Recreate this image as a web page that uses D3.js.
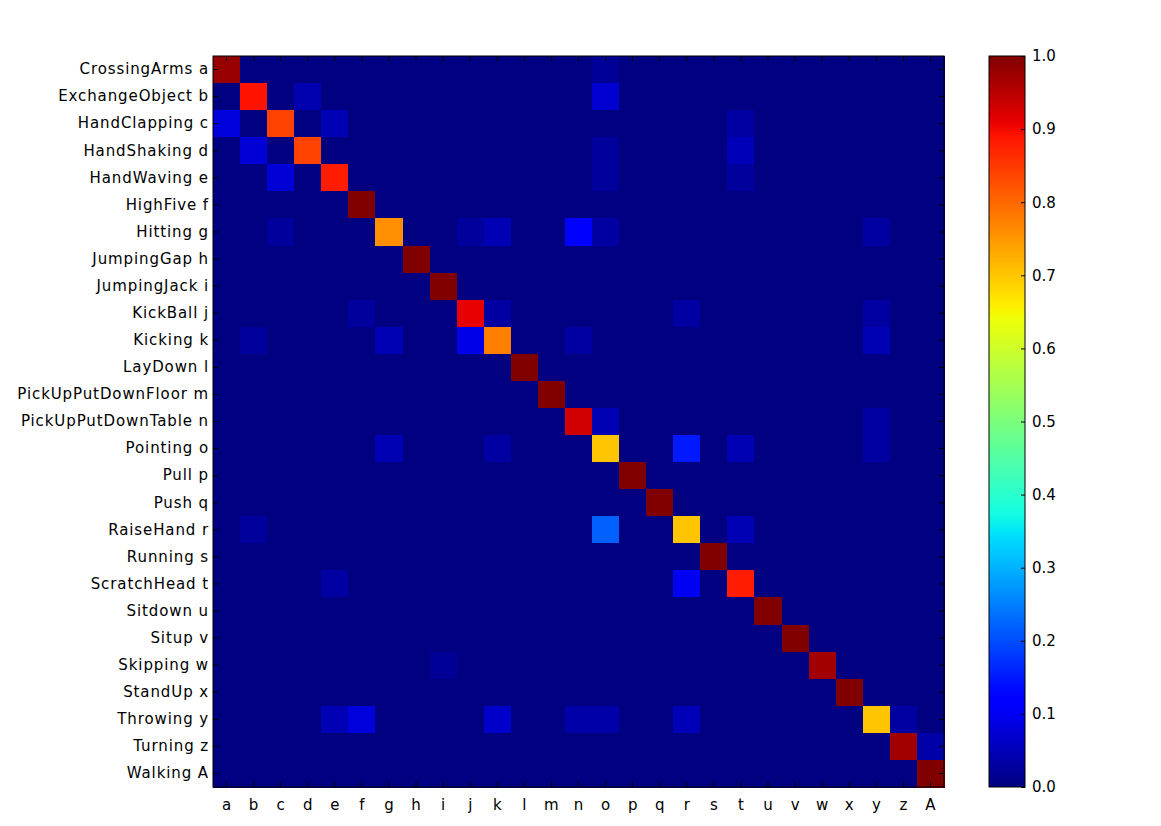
<!DOCTYPE html>
<html><head><meta charset="utf-8">
<script src="https://cdn.jsdelivr.net/npm/d3@7"></script>
<style>body{margin:0;background:#fff;} svg{display:block;} text{font-family:"DejaVu Sans",sans-serif;}</style>
</head><body><svg id="c" width="1161" height="826"></svg>
<script>
const rowLabels = ["CrossingArms a","ExchangeObject b","HandClapping c","HandShaking d","HandWaving e","HighFive f","Hitting g","JumpingGap h","JumpingJack i","KickBall j","Kicking k","LayDown l","PickUpPutDownFloor m","PickUpPutDownTable n","Pointing o","Pull p","Push q","RaiseHand r","Running s","ScratchHead t","Sitdown u","Situp v","Skipping w","StandUp x","Throwing y","Turning z","Walking A"];
const colLabels = ["a","b","c","d","e","f","g","h","i","j","k","l","m","n","o","p","q","r","s","t","u","v","w","x","y","z","A"];
const colorbarTicks = [0.0,0.1,0.2,0.3,0.4,0.5,0.6,0.7,0.8,0.9,1.0];
// non-zero cells: [row, column, value]
const cells = [
 ["a","a",0.98],["a","o",0.02],
 ["b","b",0.89],["b","d",0.04],["b","o",0.07],
 ["c","a",0.08],["c","c",0.84],["c","e",0.045],["c","t",0.03],
 ["d","b",0.075],["d","d",0.84],["d","o",0.025],["d","t",0.05],
 ["e","c",0.075],["e","e",0.88],["e","o",0.025],["e","t",0.025],
 ["f","f",1.0],
 ["g","c",0.025],["g","g",0.76],["g","j",0.025],["g","k",0.045],["g","n",0.115],["g","o",0.03],["g","y",0.03],
 ["h","h",1.0],
 ["i","i",1.0],
 ["j","f",0.025],["j","j",0.91],["j","k",0.03],["j","r",0.03],["j","y",0.03],
 ["k","b",0.025],["k","g",0.045],["k","j",0.09],["k","k",0.775],["k","n",0.03],["k","y",0.045],
 ["l","l",1.0],
 ["m","m",1.0],
 ["n","n",0.93],["n","o",0.045],["n","y",0.03],
 ["o","g",0.045],["o","k",0.03],["o","o",0.70],["o","r",0.15],["o","t",0.045],["o","y",0.03],
 ["p","p",1.0],
 ["q","q",1.0],
 ["r","b",0.025],["r","o",0.22],["r","r",0.70],["r","t",0.045],
 ["s","s",1.0],
 ["t","e",0.03],["t","r",0.10],["t","t",0.88],
 ["u","u",1.0],
 ["v","v",1.0],
 ["w","i",0.02],["w","w",0.97],
 ["x","x",1.0],
 ["y","e",0.045],["y","f",0.08],["y","k",0.065],["y","n",0.035],["y","o",0.035],["y","r",0.05],["y","y",0.70],["y","z",0.03],
 ["z","z",0.97],["z","A",0.035],
 ["A","A",1.0]
];

function seg(pts, v){
  for(let i=1;i<pts.length;i++){
    if(v<=pts[i][0]){const [x0,y0]=pts[i-1],[x1,y1]=pts[i];return y0+(y1-y0)*(v-x0)/(x1-x0);}
  }
  return pts[pts.length-1][1];
}
const R=[[0,0],[0.35,0],[0.66,1],[0.89,1],[1,0.5]];
const G=[[0,0],[0.125,0],[0.375,1],[0.64,1],[0.91,0],[1,0]];
const B=[[0,0.5],[0.11,1],[0.34,1],[0.65,0],[1,0]];
function jet(v){v=Math.max(0,Math.min(1,v));return d3.rgb(Math.round(255*seg(R,v)),Math.round(255*seg(G,v)),Math.round(255*seg(B,v))).toString();}

const svg=d3.select("#c");
const L=213,T=56,S=731;
const x=d3.scaleBand().domain(colLabels).range([L,L+S]);
const y=d3.scaleBand().domain(colLabels).range([T,T+S]);
const full=new Map();
colLabels.forEach(r=>colLabels.forEach(c=>full.set(r+"|"+c,0)));
cells.forEach(([r,c,v])=>full.set(r+"|"+c,v));
const data=[...full].map(([k,v])=>{const [r,c]=k.split("|");return {r,c,v};});
svg.append("g").selectAll("rect").data(data).join("rect")
 .attr("x",d=>x(d.c)).attr("y",d=>y(d.r)).attr("width",x.bandwidth()+0.5).attr("height",y.bandwidth()+0.5)
 .attr("fill",d=>jet(d.v)).attr("shape-rendering","crispEdges");

const fs=15;
// axes with inward ticks
const xb=svg.append("g").attr("transform",`translate(0,${T+S})`).call(d3.axisBottom(x).tickSizeInner(-5).tickSizeOuter(0).tickPadding(12));
const xt=svg.append("g").attr("transform",`translate(0,${T})`).call(d3.axisTop(x).tickSizeInner(-5).tickSizeOuter(0).tickFormat(""));
const yl=svg.append("g").attr("transform",`translate(${L},0)`).call(d3.axisLeft(y).tickSizeInner(-5).tickSizeOuter(0).tickPadding(4).tickFormat((d,i)=>rowLabels[i]));
const yr=svg.append("g").attr("transform",`translate(${L+S},0)`).call(d3.axisRight(y).tickSizeInner(-5).tickSizeOuter(0).tickFormat(""));
[xb,xt,yl,yr].forEach(g=>{g.select(".domain").remove();g.selectAll("line").attr("stroke","#000");g.selectAll("text").attr("font-size",fs).attr("fill","#000").attr("font-family","DejaVu Sans");});
yl.selectAll("text").attr("letter-spacing","0.9px");
svg.append("rect").attr("x",L).attr("y",T).attr("width",S).attr("height",S).attr("fill","none").attr("stroke","#000").attr("stroke-width",1);

// colorbar
const CL=989,CW=36;
const cs=d3.scaleLinear().domain([0,1]).range([T+S,T]);
const defs=svg.append("defs");
const grad=defs.append("linearGradient").attr("id","jet").attr("x1",0).attr("y1",1).attr("x2",0).attr("y2",0);
d3.range(0,1.0001,0.01).forEach(t=>grad.append("stop").attr("offset",t).attr("stop-color",jet(t)));
svg.append("rect").attr("x",CL).attr("y",T).attr("width",CW).attr("height",S).attr("fill","url(#jet)");
const cb=svg.append("g").attr("transform",`translate(${CL+CW},0)`).call(d3.axisRight(cs).tickValues(colorbarTicks).tickFormat(d3.format(".1f")).tickSizeInner(-4).tickSizeOuter(0).tickPadding(7));
cb.select(".domain").remove();
cb.selectAll("line").attr("stroke","#000");
cb.selectAll("text").attr("font-size",fs).attr("fill","#000");
svg.append("rect").attr("x",CL).attr("y",T).attr("width",CW).attr("height",S).attr("fill","none").attr("stroke","#000");
</script></body></html>
